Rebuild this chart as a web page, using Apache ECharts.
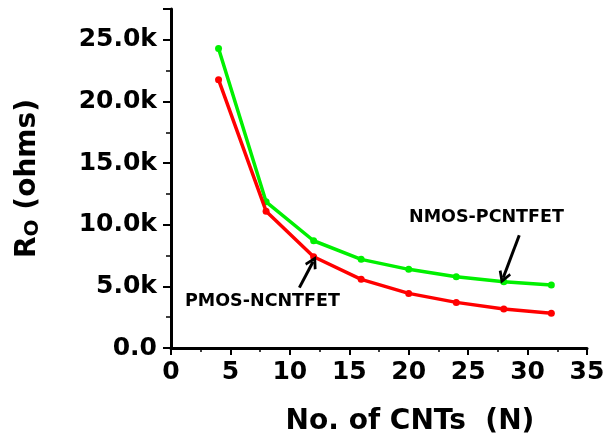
<!DOCTYPE html>
<html>
<head>
<meta charset="utf-8">
<script src="https://cdn.jsdelivr.net/npm/echarts@6/dist/echarts.min.js"></script>
<style>
  html, body { margin: 0; padding: 0; background: #fff; }
  #chart { width: 614px; height: 446px; }
</style>
</head>
<body>
<div id="chart"></div>
<script>
// Number of carbon nanotubes per device
const cntCounts = [4, 8, 12, 16, 20, 24, 28, 32];
// Output resistance (ohms) for each configuration
const nmosPcntfet = [24300, 11860, 8700, 7190, 6380, 5780, 5370, 5110];
const pmosNcntfet = [21770, 11100, 7400, 5570, 4430, 3700, 3160, 2810];
// Annotation labels
const nmosLabel = 'NMOS-PCNTFET';
const pmosLabel = 'PMOS-NCNTFET';

const FONT = 'DejaVu Sans';
const chart = echarts.init(document.getElementById('chart'));

const pairs = (xs, ys) => xs.map((x, i) => [x, ys[i]]);
const chevron = 'path://M5,0 L10,8 L8.3,9.2 L5,4 L1.7,9.2 L0,8 Z';

const arrowLine = (from, to) => ({
  silent: true,
  animation: false,
  symbol: ['none', chevron],
  symbolSize: [13, 13],
  label: { show: false },
  lineStyle: { color: '#000', width: 3, type: 'solid' },
  data: [[{ coord: from }, { coord: to }]]
});

chart.setOption({
  animation: false,
  grid: { left: 171, right: 27, top: 9, bottom: 98 },
  xAxis: {
    type: 'value',
    min: 0, max: 35, interval: 5,
    name: 'No. of CNTs  (N)',
    nameLocation: 'middle',
    nameGap: 60,
    nameTextStyle: {
      fontFamily: FONT, fontWeight: 'bold', fontSize: 28, color: '#000',
      padding: [0, 0, 0, 62]
    },
    axisLine: { lineStyle: { color: '#000', width: 3 } },
    axisTick: { length: 7, lineStyle: { color: '#000', width: 2 } },
    minorTick: { show: true, splitNumber: 2, length: 4, lineStyle: { color: '#000', width: 1.5 } },
    splitLine: { show: false },
    axisLabel: { margin: 12, fontFamily: FONT, fontWeight: 'bold', fontSize: 25, color: '#000' }
  },
  yAxis: {
    type: 'value',
    min: 0, max: 27500, interval: 5000,
    name: '{r|R}{s|O}{r| (ohms)}',
    nameLocation: 'middle',
    nameRotate: 90,
    nameGap: 128,
    nameTextStyle: {
      rich: {
        r: { fontFamily: FONT, fontWeight: 'bold', fontSize: 28, color: '#000' },
        s: { fontFamily: FONT, fontWeight: 'bold', fontSize: 20, color: '#000', padding: [10, 0, 0, 0] }
      }
    },
    axisLine: { lineStyle: { color: '#000', width: 3 } },
    axisTick: { length: 8, lineStyle: { color: '#000', width: 2 } },
    minorTick: { show: true, splitNumber: 2, length: 5, lineStyle: { color: '#000', width: 1.5 } },
    splitLine: { show: false },
    axisLabel: {
      margin: 14, fontFamily: FONT, fontWeight: 'bold', fontSize: 25, color: '#000',
      showMaxLabel: false,
      formatter: v => v === 0 ? '0.0' : (v / 1000).toFixed(1) + 'k'
    }
  },
  series: [
    {
      name: nmosLabel,
      type: 'line',
      data: pairs(cntCounts, nmosPcntfet),
      symbol: 'circle', symbolSize: 7,
      itemStyle: { color: '#00f000' },
      lineStyle: { color: '#00f000', width: 3.5 },
      z: 3,
      markLine: arrowLine([29.3, 9150], [27.95, 5700])
    },
    {
      name: pmosLabel,
      type: 'line',
      data: pairs(cntCounts, pmosNcntfet),
      symbol: 'circle', symbolSize: 7,
      itemStyle: { color: '#ff0000' },
      lineStyle: { color: '#ff0000', width: 3.5 },
      z: 4,
      markLine: arrowLine([10.8, 4900], [11.95, 7000])
    }
  ],
  graphic: [
    {
      type: 'text', left: 409, top: 208,
      style: { text: nmosLabel, fontFamily: FONT, fontWeight: 'bold', fontSize: 17.5, fill: '#000' }
    },
    {
      type: 'text', left: 185, top: 292,
      style: { text: pmosLabel, fontFamily: FONT, fontWeight: 'bold', fontSize: 17.5, fill: '#000' }
    }
  ]
});
</script>
</body>
</html>
